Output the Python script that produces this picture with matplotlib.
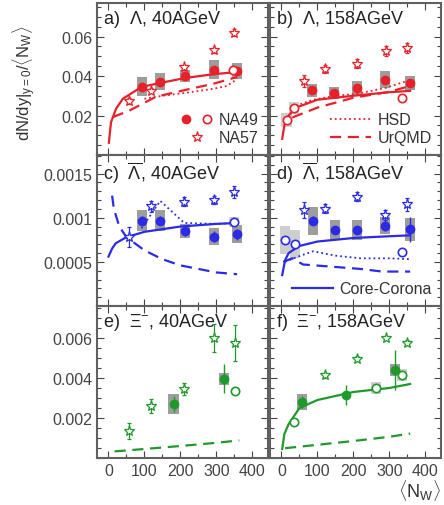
import matplotlib
matplotlib.use("Agg")
import matplotlib.pyplot as plt
from matplotlib.ticker import MultipleLocator
from matplotlib.legend_handler import HandlerTuple
from matplotlib.lines import Line2D
import numpy as np

plt.rcParams['font.family'] = ['Liberation Sans', 'DejaVu Sans']
plt.rcParams['mathtext.fontset'] = 'custom'
plt.rcParams['mathtext.rm'] = 'Liberation Sans'
plt.rcParams['mathtext.it'] = 'Liberation Sans'

RED = '#e8202a'
BLUE = '#2b2be6'
GREEN = '#1f9a2a'
DARKBOX = '#8c8c8c'
LIGHTBOX = '#c9c9c9'

# ---------------- panel a: Lambda 40 AGeV ----------------
a_fx = [92, 144, 213, 294, 358]
a_fy = [0.0347, 0.0372, 0.0400, 0.0433, 0.0425]
a_fstat = [0.0012, 0.0012, 0.0012, 0.0014, 0.0014]
a_fsys = [0.0050, 0.0042, 0.0030, 0.0050, 0.0040]
a_ox = [347]
a_oy = [0.0430]
a_sx = [56, 119, 209, 294, 348]
a_sy = [0.0272, 0.0326, 0.0445, 0.0530, 0.0620]
a_serr = [0.0015, 0.0012, 0.0012, 0.0014, 0.0016]
a_cc_x = [1, 7, 21, 40, 92, 144, 213, 295, 358]
a_cc_y = [0.0062, 0.0166, 0.0234, 0.0285, 0.0345, 0.0365, 0.0390, 0.0410, 0.0420]
a_uq_x = [12, 58, 132, 215, 294, 358]
a_uq_y = [0.0192, 0.0225, 0.0295, 0.0330, 0.0362, 0.0395]
a_hsd_x = [100, 150, 215, 290, 330, 358]
a_hsd_y = [0.0285, 0.0300, 0.0315, 0.0335, 0.0350, 0.0385]

# ---------------- panel b: Lambda 158 AGeV ----------------
b_fx = [86, 145, 210, 287, 358]
b_fy = [0.0327, 0.0313, 0.0339, 0.0382, 0.0364]
b_fstat = [0.0012, 0.0012, 0.0012, 0.0014, 0.0014]
b_fsys = [0.0035, 0.0030, 0.0035, 0.0042, 0.0035]
b_ox = [14, 36, 335]
b_oy = [0.0178, 0.0240, 0.0288]
b_osys = [0.0035, 0.0030, 0.0]
b_sx = [62, 120, 209, 290, 350]
b_sy = [0.0377, 0.0436, 0.0462, 0.0526, 0.0541]
b_serr = [0.0030, 0.0022, 0.0022, 0.0025, 0.0025]
b_cc_x = [2, 8, 20, 40, 100, 200, 300, 358]
b_cc_y = [0.0082, 0.0150, 0.0200, 0.0240, 0.0280, 0.0300, 0.0318, 0.0325]
b_uq_x = [30, 100, 200, 300, 358]
b_uq_y = [0.0190, 0.0240, 0.0290, 0.0320, 0.0350]
b_hsd_x = [40, 88, 150, 210, 290, 358]
b_hsd_y = [0.0250, 0.0280, 0.0300, 0.0310, 0.0340, 0.0380]

# ---------------- panel c: anti-Lambda 40 AGeV ----------------
c_fx = [92, 144, 213, 294, 358]
c_fy = [0.000966, 0.000966, 0.000849, 0.000786, 0.000812]
c_fstat = [0.00005, 0.00005, 0.00006, 0.00006, 0.00006]
c_fsys = [0.00012, 0.00012, 0.00008, 0.00010, 0.00010]
c_ox = [350]
c_oy = [0.000950]
c_osys = [0.00006]
c_sx = [56, 119, 211, 295, 348]
c_sy = [0.000782, 0.00113, 0.00118, 0.00120, 0.00129]
c_serr = [0.00011, 0.00006, 0.00005, 0.00005, 0.00007]
c_cc_x = [0, 10, 20, 50, 100, 200, 300, 358]
c_cc_y = [0.00056, 0.00065, 0.00071, 0.00078, 0.00084, 0.00090, 0.00093, 0.00094]
c_uq_x = [10, 15, 30, 50, 100, 150, 200, 250, 300, 358]
c_uq_y = [0.00125, 0.00110, 0.00090, 0.00078, 0.00063, 0.00053, 0.00046, 0.00042, 0.00038, 0.00036]
c_hsd_x = [92, 144, 211, 300, 358]
c_hsd_y = [0.00088, 0.00119, 0.00094, 0.00093, 0.00094]

# ---------------- panel d: anti-Lambda 158 AGeV ----------------
d_fx = [88, 148, 210, 288, 358]
d_fy = [0.000966, 0.000860, 0.000860, 0.000910, 0.000868]
d_fstat = [0.00005, 0.00005, 0.00005, 0.00006, 0.00014]
d_fsys = [0.00016, 0.00011, 0.00011, 0.00010, 0.00013]
d_ox = [9, 37, 335]
d_oy = [0.000747, 0.000702, 0.000610]
d_osys = [0.00016, 0.00016, 0.0]
d_sx = [62, 122, 209, 288, 348]
d_sy = [0.00109, 0.00110, 0.00124, 0.00103, 0.00115]
d_serr = [0.00009, 0.00005, 0.00005, 0.00006, 0.00007]
d_cc_x = [2, 10, 20, 50, 100, 200, 300, 358]
d_cc_y = [0.00035, 0.00052, 0.00060, 0.00068, 0.00073, 0.00077, 0.00079, 0.00080]
d_uq_x = [5, 30, 60, 125, 219, 280, 358]
d_uq_y = [0.00050, 0.00054, 0.00047, 0.00045, 0.00042, 0.00039, 0.00039]
d_hsd_x = [10, 40, 88, 150, 220, 300, 358]
d_hsd_y = [0.00050, 0.00055, 0.00062, 0.00057, 0.00054, 0.00054, 0.00053]

# ---------------- panel e: Xi- 40 AGeV ----------------
e_fx = [181, 322]
e_fy = [0.00272, 0.00397]
e_fstat = [0.0004, 0.00072]
e_fsys = [0.0005, 0.0003]
e_ox = [352]
e_oy = [0.00333]
e_osys = [0.0]
e_sx = [56, 119, 209, 294, 353]
e_sy = [0.00135, 0.00258, 0.00343, 0.00600, 0.00577]
e_serr = [0.0004, 0.00035, 0.0003, 0.0007, 0.0009]
e_uq_x = [17, 100, 200, 300, 364]
e_uq_y = [0.00033, 0.00045, 0.00060, 0.00076, 0.00088]

# ---------------- panel f: Xi- 158 AGeV ----------------
f_fx = [58, 180, 315]
f_fy = [0.00280, 0.00317, 0.00438]
f_fstat = [0.0003, 0.0005, 0.0010]
f_fsys = [0.0004, 0.0, 0.0003]
f_ox = [36, 262, 335]
f_oy = [0.00180, 0.00352, 0.00417]
f_osys = [0.0, 0.0003, 0.0003]
f_sx = [121, 209, 290, 349]
f_sy = [0.00413, 0.00497, 0.00600, 0.00577]
f_serr = [0.00012, 0.00012, 0.00012, 0.00012]
f_cc_x = [2, 8, 20, 50, 100, 200, 300, 358]
f_cc_y = [0.00045, 0.0012, 0.0017, 0.0025, 0.0029, 0.0033, 0.0035, 0.0037]
f_uq_x = [10, 100, 200, 300, 358]
f_uq_y = [0.00049, 0.00066, 0.00085, 0.00106, 0.00122]

titles = [r'a)  $\Lambda$, 40AGeV', r'b)  $\Lambda$, 158AGeV',
          r'c)  $\overline{\Lambda}$, 40AGeV', r'd)  $\overline{\Lambda}$, 158AGeV',
          r'e)  $\Xi^{-}$, 40AGeV', r'f)  $\Xi^{-}$, 158AGeV']

fig = plt.figure(figsize=(4.44, 5.06), dpi=100)
W = 0.386
lefts = [97 / 444, 270 / 444]
rows = [(1 - 156 / 506, 152 / 506), (1 - 307 / 506, 151 / 506), (1 - 459 / 506, 152 / 506)]
ylims = [(0, 0.077), (0, 0.00171), (0, 0.0076)]
ymaj = [0.02, 0.0005, 0.002]
ymin = [0.005, 0.0001, 0.0005]

axes = []
for r in range(3):
    for c in range(2):
        ax = fig.add_axes([lefts[c], rows[r][0], W, rows[r][1]])
        ax.set_xlim(-32, 445)
        ax.set_ylim(*ylims[r])
        ax.xaxis.set_major_locator(MultipleLocator(100))
        ax.xaxis.set_minor_locator(MultipleLocator(50))
        ax.yaxis.set_major_locator(MultipleLocator(ymaj[r]))
        ax.yaxis.set_minor_locator(MultipleLocator(ymin[r]))
        ax.tick_params(which='both', direction='in', top=True, right=True,
                       labelsize=11.5, colors='#444444', width=0.8)
        ax.tick_params(which='major', length=5)
        ax.tick_params(which='minor', length=3)
        for s in ax.spines.values():
            s.set_color('#606060')
            s.set_linewidth(1.5)
        if c == 1:
            ax.set_yticklabels([])
        else:
            labs = {0: ['', '0.02', '0.04', '0.06', ''], 1: ['', '0.0005', '0.001', '0.0015', ''],
                    2: ['', '0.002', '0.004', '0.006', '']}[r]
            ax.set_yticks(np.arange(0, ylims[r][1], ymaj[r]))
            ax.set_yticklabels(labs[:len(ax.get_yticks())])
        if r < 2:
            ax.set_xticklabels([])
        ax.text(0.035, 0.97, titles[2 * r + c], transform=ax.transAxes, ha='left', va='top',
                fontsize=13, color='#222222')
        axes.append(ax)

BW = 28


def panel(ax, col, fx, fy, fstat, fsys, ox, oy, osys, sx, sy, serr, cc=None, uq=None, hsd=None,
          fbox=DARKBOX, obox=LIGHTBOX):
    ax.bar(fx, [2 * s for s in fsys], bottom=[y - s for y, s in zip(fy, fsys)], width=BW,
           color=fbox, alpha=0.85, zorder=1, linewidth=0)
    if osys is not None:
        ax.bar(ox, [2 * s for s in osys], bottom=[y - s for y, s in zip(oy, osys)], width=BW,
               color=obox, alpha=0.9, zorder=1, linewidth=0)
    if cc is not None:
        ax.plot(cc[0], cc[1], '-', color=col, lw=1.6, zorder=2)
    if uq is not None:
        ax.plot(uq[0], uq[1], '--', color=col, lw=1.6, dashes=(5, 3), zorder=2)
    if hsd is not None:
        ax.plot(hsd[0], hsd[1], ':', color=col, lw=1.3, zorder=2)
    ax.errorbar(fx, fy, yerr=fstat, fmt='o', color=col, ms=6, mec=col, mfc=col,
                elinewidth=1.0, capsize=0, zorder=4)
    ax.errorbar(ox, oy, fmt='o', color=col, ms=6, mec=col, mfc='white', mew=1.2, zorder=4)
    ax.errorbar(sx, sy, yerr=serr, fmt='*', color=col, ms=8, mec=col, mfc='white', mew=0.9,
                elinewidth=0.9, capsize=1.5, zorder=4)


panel(axes[0], RED, a_fx, a_fy, a_fstat, a_fsys, a_ox, a_oy, None, a_sx, a_sy, a_serr,
      cc=(a_cc_x, a_cc_y), uq=(a_uq_x, a_uq_y), hsd=(a_hsd_x, a_hsd_y))
panel(axes[1], RED, b_fx, b_fy, b_fstat, b_fsys, b_ox, b_oy, b_osys, b_sx, b_sy, b_serr,
      cc=(b_cc_x, b_cc_y), uq=(b_uq_x, b_uq_y), hsd=(b_hsd_x, b_hsd_y))
panel(axes[2], BLUE, c_fx, c_fy, c_fstat, c_fsys, c_ox, c_oy, c_osys, c_sx, c_sy, c_serr,
      cc=(c_cc_x, c_cc_y), uq=(c_uq_x, c_uq_y), hsd=(c_hsd_x, c_hsd_y))
panel(axes[3], BLUE, d_fx, d_fy, d_fstat, d_fsys, d_ox, d_oy, d_osys, d_sx, d_sy, d_serr,
      cc=(d_cc_x, d_cc_y), uq=(d_uq_x, d_uq_y), hsd=(d_hsd_x, d_hsd_y))
panel(axes[4], GREEN, e_fx, e_fy, e_fstat, e_fsys, e_ox, e_oy, e_osys, e_sx, e_sy, e_serr,
      uq=(e_uq_x, e_uq_y))
panel(axes[5], GREEN, f_fx, f_fy, f_fstat, f_fsys, f_ox, f_oy, f_osys, f_sx, f_sy, f_serr,
      cc=(f_cc_x, f_cc_y), uq=(f_uq_x, f_uq_y))

# legends
h_f = Line2D([], [], ls='none', marker='o', color=RED, ms=6)
h_o = Line2D([], [], ls='none', marker='o', color=RED, mfc='white', ms=6, mew=1.2)
h_s = Line2D([], [], ls='none', marker='*', color=RED, mfc='white', ms=8, mew=0.9)
leg = axes[0].legend([(h_f, h_o), h_s], ['NA49', 'NA57'],
                     handler_map={tuple: HandlerTuple(ndivide=None, pad=0.6)},
                     loc='lower right', frameon=False, fontsize=11.5, handlelength=2.0,
                     handletextpad=0.4, labelspacing=0.2, borderaxespad=0.2, markerfirst=True)
for t in leg.get_texts():
    t.set_color('#333333')

h_hsd = Line2D([], [], ls=':', color=RED, lw=1.3)
h_uq = Line2D([], [], ls='--', color=RED, lw=1.6, dashes=(5, 3))
leg = axes[1].legend([h_hsd, h_uq], ['HSD', 'UrQMD'], loc='lower right', frameon=False,
                     fontsize=11.5, handlelength=2.6, handletextpad=0.4, labelspacing=0.2,
                     borderaxespad=0.2)
for t in leg.get_texts():
    t.set_color('#333333')

h_cc = Line2D([], [], ls='-', color=BLUE, lw=1.6)
leg = axes[3].legend([h_cc], ['Core-Corona'], loc='lower right', frameon=False,
                     fontsize=11.5, handlelength=2.6, handletextpad=0.4, borderaxespad=0.2)
for t in leg.get_texts():
    t.set_color('#333333')

fig.text(0.055, 0.835, r'dN/dy$|_{y=0}$/$\langle$N$_{\rm W}\rangle$', rotation=90,
         ha='center', va='center', fontsize=12, color='#333333')
fig.text(0.945, 0.03, r'$\langle$N$_{\rm W}\rangle$', ha='center', va='center',
         fontsize=13, color='#333333')

fig.savefig('out.png', dpi=100)
